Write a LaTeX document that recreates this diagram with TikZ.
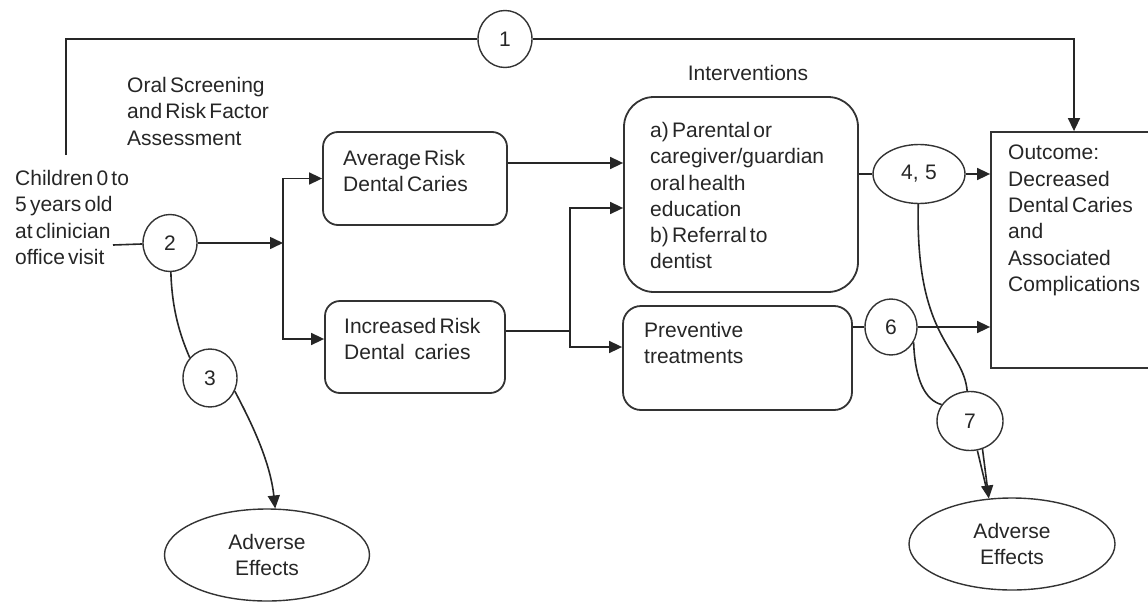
\documentclass[tikz,border=0pt]{standalone}
\usepackage{fontspec}
\setmainfont{Liberation Sans}[WordSpace=0.55]
\usepackage{tikz}
\usetikzlibrary{arrows.meta}
\usetikzlibrary{shapes.geometric}

\tikzset{
  every node/.style={font=\fontsize{21}{26.3}\selectfont, text=black!85},
  rbox/.style={draw=black!80, line width=1.8pt, rounded corners=15pt, inner sep=0},
  sbox/.style={draw=black!80, line width=1.8pt, inner sep=0},
  num/.style={draw=black!80, line width=1.4pt, ellipse, inner sep=0, minimum width=54, minimum height=57},
  adv/.style={draw=black!80, line width=1.4pt, ellipse, inner sep=0, minimum width=205, minimum height=92, align=center},
  txt/.style={anchor=north west, align=left, inner sep=0},
  link/.style={black!85, line width=1.6pt},
  arr/.style={link, -{Triangle[length=13pt,width=12pt]}},
}

\begin{document}
\begin{tikzpicture}[x=1pt, y=-1pt]
\useasboundingbox (0,0) rectangle (1148,602);

\node[rbox, minimum width=184, minimum height=93] (avg) at (415,178.5) {};
\node[rbox, minimum width=180, minimum height=92] (inc) at (415,347) {};
\node[rbox, rounded corners=30pt, minimum width=234, minimum height=195] (int) at (741,194.5) {};
\node[rbox, rounded corners=18pt, minimum width=229, minimum height=104] (prev) at (737.5,358) {};
\node[sbox, minimum width=166, minimum height=236] (out) at (1074,250) {};

\node[txt] (osra) at (127,77) {Oral Screening\\and Risk Factor\\Assessment};
\node[txt] (kids) at (15,170) {Children 0 to\\5 years old\\at clinician\\office visit};
\node[txt] (avgtxt) at (343,150) {Average Risk\\Dental Caries};
\node[txt] (inctxt) at (344,318) {Increased Risk\\Dental\ \ \ caries};
\node[txt] (inttxt) at (650,122) {a) Parental or\\caregiver/guardian\\oral health\\education\\b) Referral to\\dentist};
\node[txt] (prevtxt) at (644,322) {Preventive\\treatments};
\node[txt] (outtxt) at (1008,145) {Outcome:\\Decreased\\Dental Caries\\and\\Associated\\Complications};
\node (intlbl) at (748,73) {Interventions};

\node[num] (c1) at (505,39) {1};
\node[num] (c2) at (170,243) {2};
\node[num, minimum height=58] (c3) at (210,378) {3};
\node[num, minimum width=92, minimum height=59] (c45) at (919,174) {4,\ \ 5};
\node[num, minimum width=52, minimum height=56] (c6) at (891,327) {6};
\node[num, minimum width=66, minimum height=59] (c7) at (970,421) {7};

\node[adv] (adv1) at (267,555) {Adverse\\Effects};
\node[adv, minimum width=206] (adv2) at (1012,544) {Adverse\\Effects};

\coordinate (top) at (66,155);
\coordinate (kidsout) at (113,245);
\coordinate (fork) at (283,243);
\coordinate (join) at (570,331);

\draw[link] (top) |- (c1);
\draw[arr] (c1) -| (out);
\draw[link] (kidsout) -- (c2);
\draw[arr] (c2) -- (fork);
\draw[arr] (fork) |- (avg);
\draw[arr] (fork) |- ([yshift=8pt]inc.west);
\draw[arr] ([yshift=15.5pt]avg.east) -- ([yshift=15.5pt]avg.east -| int.west);
\draw[link] ([yshift=16pt]inc.east) -- (join);
\draw[arr] (join) |- ([yshift=-13.5pt]int.west);
\draw[arr] (join) |- ([yshift=11pt]prev.west);
\draw[link] (c45 -| int.east) -- (c45);
\draw[arr] (c45) -- (c45 -| out.west);
\draw[link] (c6 -| prev.east) -- (c6);
\draw[arr] (c6) -- (c6 -| out.west);

\draw[link] (c2) .. controls (172,310) and (180,335) .. (c3.135);
\draw[arr] (c3.-28) .. controls (250,420) and (270,460) .. (adv1.80);
\draw[link] (c45) .. controls (915,340) and (963,347) .. (c7);
\draw[link] (c6.-34) .. controls (915,380) and (925,400) .. (c7.150);
\draw[link, shorten >=6pt] (c7.-76) -- (adv2.117);
\draw[arr] (c7.-66) -- (adv2.117);

\end{tikzpicture}
\end{document}
